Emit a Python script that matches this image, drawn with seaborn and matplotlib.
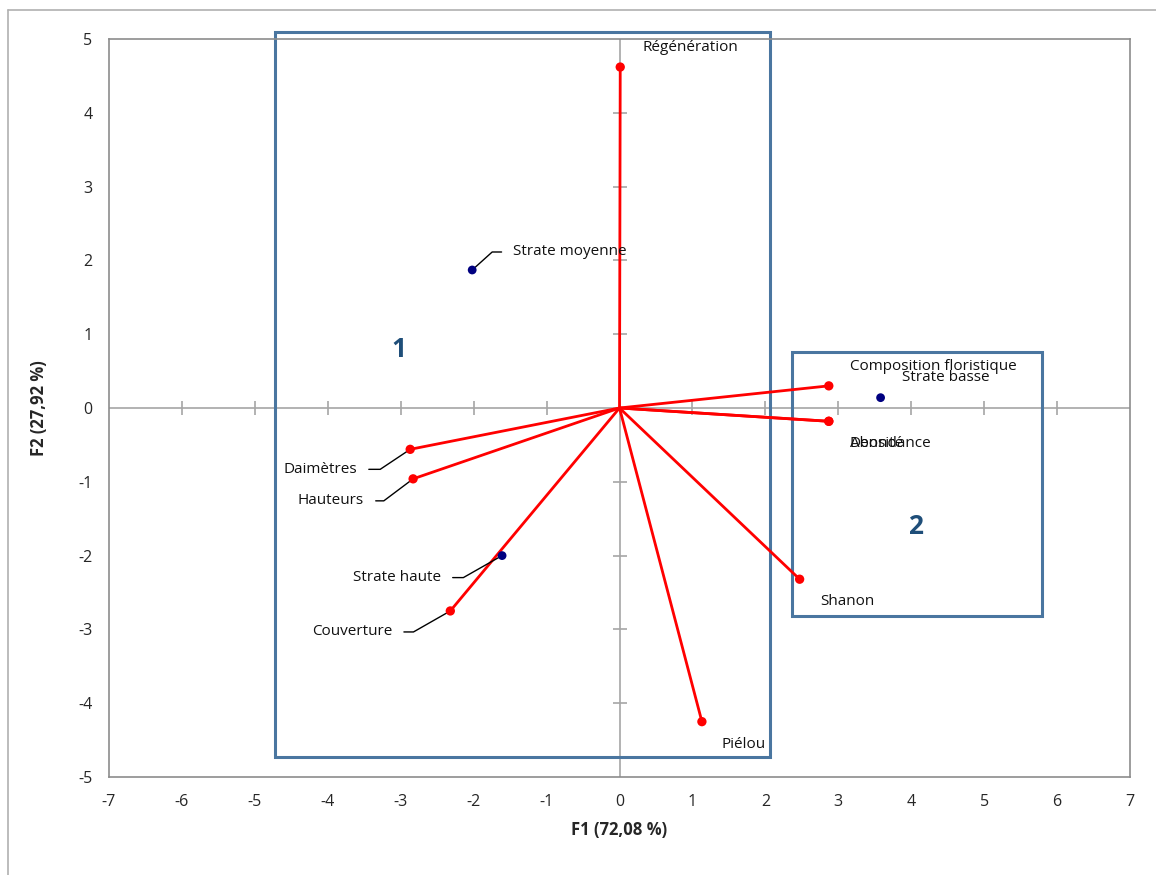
import numpy as np
import pandas as pd
import matplotlib
matplotlib.use("Agg")
import matplotlib.pyplot as plt
import seaborn as sns
from matplotlib.patches import Rectangle
from matplotlib.lines import Line2D

# ---------------- data ----------------
var_names = ["Régénération", "Composition floristique", "Densité", "Abondance",
             "Daimètres", "Hauteurs", "Couverture", "Shanon", "Piélou"]
var_f1 = [0.01, 2.87, 2.87, 2.87, -2.87, -2.83, -2.32, 2.47, 1.13]
var_f2 = [4.62, 0.30, -0.18, -0.18, -0.56, -0.96, -2.75, -2.32, -4.25]

obs_names = ["Strate moyenne", "Strate basse", "Strate haute"]
obs_f1 = [-2.02, 3.58, -1.61]
obs_f2 = [1.87, 0.14, -2.00]

# groups drawn as boxes
group_labels = ["1", "2"]
group_x0 = [-4.72, 2.36]
group_x1 = [2.06, 5.79]
group_y0 = [-4.73, -2.82]
group_y1 = [5.09, 0.76]
group_lx = [-3.03, 4.06]
group_ly = [0.79, -1.61]

xlim = (-7, 7)
ylim = (-5, 5)

# ---------------- style ----------------
sns.set_style("white")
plt.rcParams["font.family"] = ["Open Sans", "DejaVu Sans"]
plt.rcParams["axes.unicode_minus"] = False
GREY = "#8c8c8c"
BOX = "#4a76a0"
NUM = "#1f4e79"

fig = plt.figure(figsize=(11.56, 8.75), dpi=100)
ax = fig.add_axes([109 / 1156, 1 - 777 / 875, (1130 - 109) / 1156, (777 - 39) / 875])

df_var = pd.DataFrame({"F1": var_f1, "F2": var_f2, "name": var_names})
df_obs = pd.DataFrame({"F1": obs_f1, "F2": obs_f2, "name": obs_names})

# central axes with crossing ticks
ax.axhline(0, color="#a6a6a6", lw=1.2, zorder=1)
ax.axvline(0, color="#a6a6a6", lw=1.2, zorder=1)
xt = np.arange(xlim[0] + 1, xlim[1])
yt = np.arange(ylim[0] + 1, ylim[1])
ax.plot(xt, np.zeros_like(xt), ls="none", marker="|", ms=10, mew=1.2, color="#a6a6a6", zorder=1)
ax.plot(np.zeros_like(yt), yt, ls="none", marker="_", ms=10, mew=1.2, color="#a6a6a6", zorder=1)

# group rectangles
for lab, x0, x1, y0, y1, lx, ly in zip(group_labels, group_x0, group_x1, group_y0, group_y1, group_lx, group_ly):
    ax.add_patch(Rectangle((x0, y0), x1 - x0, y1 - y0, fill=False, ec=BOX, lw=2.2,
                           clip_on=False, zorder=2))
    ax.text(lx, ly, lab, color=NUM, fontsize=19, fontweight="bold", ha="center", va="center")

# variable vectors
for _, r in df_var.iterrows():
    ax.plot([0, r.F1], [0, r.F2], color="red", lw=2, zorder=3, solid_capstyle="butt")
sns.scatterplot(data=df_var, x="F1", y="F2", color="red", s=45, edgecolor="none", zorder=4, ax=ax)
sns.scatterplot(data=df_obs, x="F1", y="F2", color="#000080", s=40, edgecolor="none", zorder=4, ax=ax)

# labels: name -> (dx px, dy px, ha, leader angle or None)
lab_opts = {
    "Régénération": (22, 20, "left", None),
    "Composition floristique": (21, 19, "left", None),
    "Strate basse": (21, 20, "left", None),
    "Densité": (21, -22, "left", None),
    "Abondance": (21, -22, "left", None),
    "Shanon": (21, -22, "left", None),
    "Piélou": (20, -23, "left", None),
    "Strate moyenne": (41, 18, "left", 42),
    "Daimètres": (-53, -20, "right", 33.7),
    "Hauteurs": (-49, -22, "right", 36.9),
    "Strate haute": (-61, -22, "right", 29.6),
    "Couverture": (-58, -21, "right", 29.7),
}
fs = 11
for df in (df_var, df_obs):
    for _, r in df.iterrows():
        dx, dy, ha, ang = lab_opts[r["name"]]
        if ang is None:
            ax.annotate(r["name"], (r.F1, r.F2), xytext=(dx, dy), textcoords="offset pixels",
                        ha=ha, va="center", fontsize=fs, color="#111111")
        else:
            ax.annotate(r["name"], (r.F1, r.F2), xytext=(dx, dy), textcoords="offset pixels",
                        ha=ha, va="center", fontsize=fs, color="#111111",
                        arrowprops=dict(arrowstyle="-", color="black", lw=1,
                                        shrinkA=6, shrinkB=3,
                                        connectionstyle=f"angle,angleA=0,angleB={ang},rad=0"))

ax.set_xlim(*xlim)
ax.set_ylim(*ylim)
ax.set_xticks(np.arange(xlim[0], xlim[1] + 1))
ax.set_yticks(np.arange(ylim[0], ylim[1] + 1))
ax.tick_params(length=0, labelsize=11.5, pad=12)
for s in ax.spines.values():
    s.set_color(GREY)
    s.set_linewidth(1.2)
ax.set_xlabel("F1 (72,08 %)", fontsize=12, fontweight="bold", labelpad=8)
ax.set_ylabel("F2 (27,92 %)", fontsize=12, fontweight="bold", labelpad=22)

# outer chart frame
fig.add_artist(Line2D([8 / 1156, 8 / 1156], [0, 1 - 10 / 875], color="#b0b0b0", lw=1.2))
fig.add_artist(Line2D([8 / 1156, 1.0], [1 - 10 / 875, 1 - 10 / 875], color="#b0b0b0", lw=1.2))

fig.savefig("out.png", dpi=100)
